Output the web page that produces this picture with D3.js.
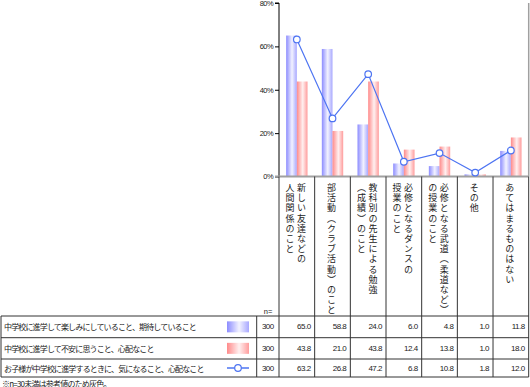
<!DOCTYPE html>
<html>
<head>
<meta charset="utf-8">
<script src="https://cdn.jsdelivr.net/npm/d3@7"></script>
<style>
  body { margin: 0; background: #fff; }
  svg { display: block; }
  .jp { font-family: "Noto Sans CJK JP", sans-serif; fill: #222; }
  .num { font-family: "Liberation Sans", Arial, sans-serif; fill: #222; }
</style>
</head>
<body>
<div id="chart"></div>
<script>
// 選択肢（縦書き、\n で列を折り返す）
const categories = [
  "新しい友達などの\n人間関係のこと",
  "部活動︵クラブ活動︶のこと",
  "教科別の先生による勉強\n︵成績︶のこと",
  "必修となるダンスの\n授業のこと",
  "必修となる武道︵柔道など︶\nの授業のこと",
  "その他",
  "あてはまるものはない"
];
const seriesNames = [
  "中学校に進学して楽しみにしていること、期待していること",
  "中学校に進学して不安に思うこと、心配なこと",
  "お子様が中学校に進学するときに、気になること、心配なこと"
];
const nValues = [300, 300, 300];
const tanoshimi = [65.0, 58.8, 24.0, 6.0, 4.8, 1.0, 11.8];
const fuan = [43.8, 21.0, 43.8, 12.4, 13.8, 1.0, 18.0];
const hogosha = [63.2, 26.8, 47.2, 6.8, 10.8, 1.8, 12.0];
const yTicks = [0, 20, 40, 60, 80];
const footnote = "※n=30未満は参考値のため灰色。";

const W = 530, H = 387;
const plot = { left: 279, right: 528.7, top: 3, bottom: 176.5 };
const rowLines = [316, 337.7, 359, 377];
const nColLeft = 256.7;

const svg = d3.select("#chart").append("svg")
    .attr("width", W).attr("height", H);

const defs = svg.append("defs");
function grad(id, edge, mid, edge2) {
  const g = defs.append("linearGradient").attr("id", id)
      .attr("x1", "0").attr("x2", "1").attr("y1", "0").attr("y2", "0");
  g.append("stop").attr("offset", "0%").attr("stop-color", edge);
  g.append("stop").attr("offset", "55%").attr("stop-color", mid);
  g.append("stop").attr("offset", "100%").attr("stop-color", edge2);
}
grad("gBlue", "#8c8cff", "#f2f2ff", "#a8a8ff");
grad("gRed", "#ff8a8a", "#fff0f0", "#ff9c9c");

const x = d3.scaleBand()
    .domain(d3.range(categories.length))
    .range([plot.left, plot.right]);

const x1 = d3.scaleBand()
    .domain([0, 1])
    .range([0, x.bandwidth()])
    .paddingOuter(0.67);

const y = d3.scaleLinear()
    .domain([0, 80])
    .range([plot.bottom, plot.top]);

// 軸
svg.append("line")
    .attr("x1", plot.right).attr("x2", plot.right)
    .attr("y1", plot.top).attr("y2", plot.bottom)
    .attr("stroke", "#a0a0a0").attr("stroke-width", 1.5);

const yAxis = svg.append("g")
    .attr("transform", `translate(${plot.left},0)`)
    .call(d3.axisLeft(y).tickValues(yTicks).tickSize(4).tickFormat(d => d + "%"));
yAxis.select(".domain").attr("stroke", "#000").attr("d", `M-4,${plot.top}H0V${plot.bottom}`);
yAxis.selectAll(".tick line").attr("stroke", "#000");
yAxis.selectAll("text")
    .attr("class", "num")
    .attr("font-size", 7.5)
    .attr("letter-spacing", -0.6)
    .attr("x", -6)
    .attr("fill", "#222");

// 棒
const barData = [];
[tanoshimi, fuan].forEach((vals, s) => {
  vals.forEach((v, i) => barData.push({ i, s, v }));
});

svg.selectAll(".bar")
    .data(barData)
    .enter().append("rect")
    .attr("class", "bar")
    .attr("x", d => x(d.i) + x1(d.s))
    .attr("y", d => y(d.v))
    .attr("width", x1.bandwidth())
    .attr("height", d => y(0) - y(d.v))
    .attr("fill", d => d.s === 0 ? "url(#gBlue)" : "url(#gRed)");

// 0% ライン
svg.append("line")
    .attr("x1", plot.left - 4).attr("x2", plot.right)
    .attr("y1", y(0)).attr("y2", y(0))
    .attr("stroke", "#a0a0a0").attr("stroke-width", 1.8);

// 折れ線
const lineGen = d3.line()
    .x((d, i) => x(i) + x.bandwidth() / 2)
    .y(d => y(d));

svg.append("path")
    .datum(hogosha)
    .attr("d", lineGen)
    .attr("fill", "none")
    .attr("stroke", "#4d74f2")
    .attr("stroke-width", 1.2);

svg.selectAll(".dot")
    .data(hogosha)
    .enter().append("circle")
    .attr("cx", (d, i) => x(i) + x.bandwidth() / 2)
    .attr("cy", d => y(d))
    .attr("r", 3.3)
    .attr("fill", "#fff")
    .attr("stroke", "#4d74f2")
    .attr("stroke-width", 1.2);

// 表の罫線
const grid = svg.append("g").attr("stroke", "#333").attr("stroke-width", 1);
x.domain().concat([categories.length]).forEach(i => {
  const xx = i < categories.length ? x(i) : plot.right;
  grid.append("line")
      .attr("x1", xx).attr("x2", xx)
      .attr("y1", plot.bottom).attr("y2", rowLines[rowLines.length - 1]);
});
rowLines.forEach(r => {
  grid.append("line").attr("x1", 1).attr("x2", plot.right).attr("y1", r).attr("y2", r);
});
[1, nColLeft].forEach(xx => {
  grid.append("line").attr("x1", xx).attr("x2", xx)
      .attr("y1", rowLines[0]).attr("y2", rowLines[rowLines.length - 1]);
});

// 縦書きカテゴリ
const colGap = 11.5;
categories.forEach((cat, i) => {
  const cols = cat.split("\n");
  const cx = x(i) + x.bandwidth() / 2 - 1;
  const startX = cx + (cols.length - 1) * colGap / 2;
  svg.append("g").selectAll("text")
      .data(cols)
      .enter().append("text")
      .attr("class", "jp")
      .attr("font-size", 9)
      .attr("letter-spacing", 1.2)
      .style("writing-mode", "vertical-rl")
      .style("text-orientation", "upright")
      .attr("x", (d, c) => startX - c * colGap)
      .attr("y", 183)
      .text(d => d);
});

// n=
svg.append("text")
    .attr("class", "num")
    .attr("font-size", 7.5)
    .attr("x", 268).attr("y", 314)
    .attr("text-anchor", "middle")
    .text("n=");

// 表の行
const rowVals = [tanoshimi, fuan, hogosha];
seriesNames.forEach((name, r) => {
  const top = rowLines[r], bot = rowLines[r + 1];
  const mid = (top + bot) / 2;
  svg.append("text")
      .attr("class", "jp")
      .attr("font-size", 8)
      .attr("letter-spacing", -0.85)
      .attr("x", 4).attr("y", mid)
      .attr("dominant-baseline", "central")
      .text(name);

  // 凡例
  if (r < 2) {
    svg.append("rect")
        .attr("x", 227).attr("y", mid - 5.5)
        .attr("width", 22).attr("height", 11)
        .attr("fill", r === 0 ? "url(#gBlue)" : "url(#gRed)");
  } else {
    svg.append("line")
        .attr("x1", 227).attr("x2", 249).attr("y1", mid).attr("y2", mid)
        .attr("stroke", "#4d74f2").attr("stroke-width", 1.5);
    svg.append("circle")
        .attr("cx", 238).attr("cy", mid).attr("r", 3.3)
        .attr("fill", "#fff").attr("stroke", "#4d74f2").attr("stroke-width", 1.2);
  }

  svg.append("text")
      .attr("class", "num")
      .attr("font-size", 8)
      .attr("letter-spacing", -0.5)
      .attr("x", (nColLeft + plot.left) / 2).attr("y", mid)
      .attr("text-anchor", "middle")
      .attr("dominant-baseline", "central")
      .text(nValues[r]);

  svg.append("g").selectAll("text")
      .data(rowVals[r])
      .enter().append("text")
      .attr("class", "num")
      .attr("font-size", 8)
      .attr("letter-spacing", -0.5)
      .attr("x", (d, i) => x(i) + x.bandwidth() - 4)
      .attr("y", mid)
      .attr("text-anchor", "end")
      .attr("dominant-baseline", "central")
      .text(d => d.toFixed(1));
});

svg.append("text")
    .attr("class", "jp")
    .attr("font-size", 8)
    .attr("letter-spacing", -0.8)
    .attr("x", 2).attr("y", 383)
    .attr("dominant-baseline", "central")
    .text(footnote);
</script>
</body>
</html>
